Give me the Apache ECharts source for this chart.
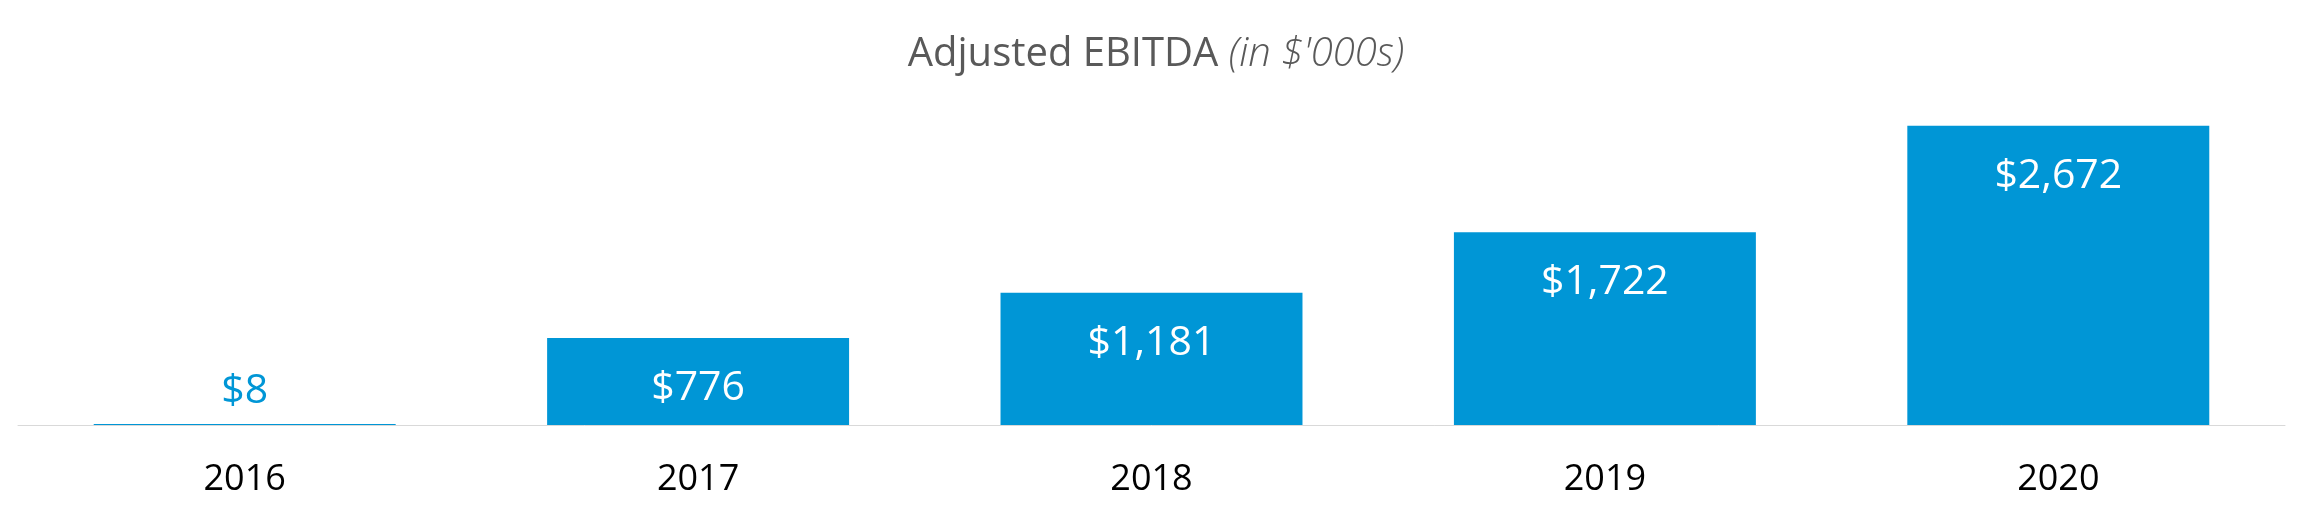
<!DOCTYPE html>
<html><head><meta charset="utf-8">
<script src="https://cdn.jsdelivr.net/npm/echarts@6/dist/echarts.min.js"></script>
<style>html,body{margin:0;padding:0;background:#fff}#c{width:2312px;height:513px}</style>
</head><body><div id="c"></div>
<script>
const categories = ['2016', '2017', '2018', '2019', '2020'];
const values = [8, 776, 1181, 1722, 2672];
const titleMain = 'Adjusted EBITDA ';
const titleSub = "(in $'000s)";

const fmt = v => '$' + v.toLocaleString('en-US');
const chart = echarts.init(document.getElementById('c'));
chart.setOption({
  animation: false,
  title: {
    text: '{a|' + titleMain + '}{b|' + titleSub + '}',
    left: 'center', top: 30,
    textStyle: {
      fontWeight: 'normal',
      rich: {
        a: { fontFamily: 'Open Sans', fontSize: 40, color: '#595959', fontWeight: 'normal' },
        b: { fontFamily: 'Open Sans', fontSize: 40, color: '#595959', fontStyle: 'italic', fontWeight: 300 }
      }
    }
  },
  grid: { left: 18, right: 27, top: 89, bottom: 88 },
  xAxis: {
    type: 'category', data: categories,
    axisLine: { lineStyle: { color: '#D9D9D9', width: 1 } },
    axisTick: { show: false },
    axisLabel: { fontFamily: 'Open Sans', fontSize: 36, color: '#000', margin: 37 }
  },
  yAxis: { type: 'value', min: 0, max: 3000, show: false, splitLine: { show: false } },
  series: [{
    type: 'bar', data: values.map((v, i) => ({
      value: v,
      label: i === 0 ? { position: 'top', color: '#0096D6', distance: 12 } : { position: 'insideTop', color: '#fff', distance: 30 }
    })),
    barWidth: '66.6%',
    itemStyle: { color: '#0096D6' },
    label: { show: true, fontFamily: 'Open Sans', fontSize: 41, formatter: p => fmt(p.value) }
  }]
});
</script></body></html>
